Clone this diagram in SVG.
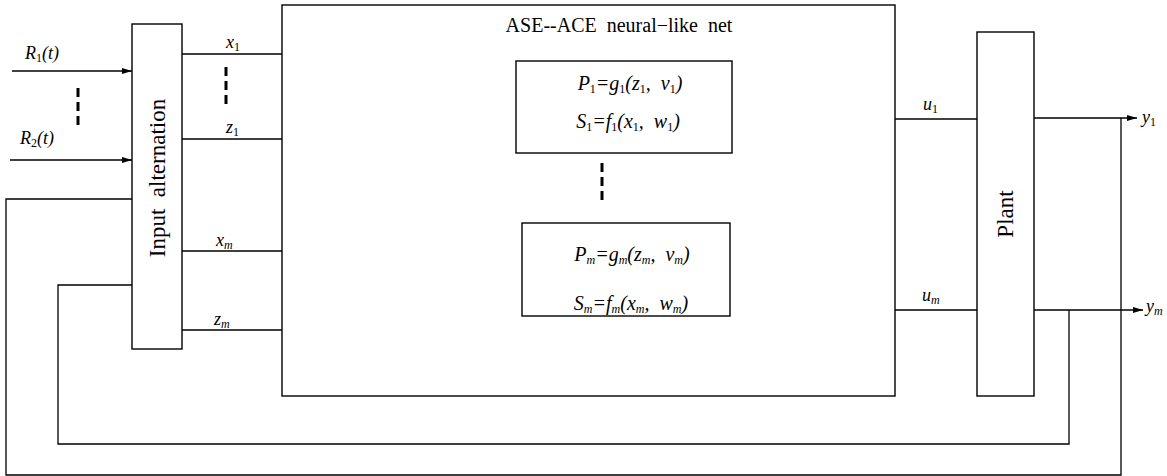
<svg xmlns="http://www.w3.org/2000/svg" width="1167" height="476" viewBox="0 0 1167 476">
<style>
.box{fill:none;stroke:#000;stroke-width:1.4}
.ln{fill:none;stroke:#000;stroke-width:1.3}
.dots{fill:none;stroke:#000;stroke-width:3;stroke-dasharray:9 5}
text{font-family:"Liberation Serif","Times New Roman",serif;fill:#000;white-space:pre}
.lab{font-size:18px;font-style:italic}
.fx{font-size:20px;font-style:italic}
.sub{font-size:12px;font-style:normal}
.subi{font-size:12px;font-style:italic}
.ttl{font-size:20px}
.rot{font-size:23px}
</style>
<defs>
<marker id="arr" viewBox="0 0 10 6" refX="10" refY="3" markerWidth="10" markerHeight="6" markerUnits="userSpaceOnUse" orient="auto">
<path d="M0,0 L10,3 L0,6 Z" fill="#000"/>
</marker>
</defs>
<rect width="1167" height="476" fill="#fff"/>

<g id="input-alternation">
<rect class="box" x="132" y="24" width="50" height="325"/>
<text class="rot" transform="translate(165,178) rotate(-90)" text-anchor="middle" xml:space="preserve">Input  alternation</text>
</g>

<g id="ase-ace-net">
<rect class="box" x="282" y="5" width="613" height="391"/>
<text class="ttl" x="619" y="32" text-anchor="middle" xml:space="preserve">ASE--ACE  neural−like  net</text>
</g>

<g id="unit-1">
<rect class="box" x="516" y="61" width="216" height="92"/>
<text class="fx" x="630" y="90" text-anchor="middle" xml:space="preserve">P<tspan class="sub" dy="3">1</tspan><tspan dy="-3">=g</tspan><tspan class="sub" dy="3">1</tspan><tspan dy="-3">(z</tspan><tspan class="sub" dy="3">1</tspan><tspan dy="-3">,  v</tspan><tspan class="sub" dy="3">1</tspan><tspan dy="-3">)</tspan></text>
<text class="fx" x="628" y="128" text-anchor="middle" xml:space="preserve">S<tspan class="sub" dy="3">1</tspan><tspan dy="-3">=f</tspan><tspan class="sub" dy="3">1</tspan><tspan dy="-3">(x</tspan><tspan class="sub" dy="3">1</tspan><tspan dy="-3">,  w</tspan><tspan class="sub" dy="3">1</tspan><tspan dy="-3">)</tspan></text>
</g>

<g id="unit-m">
<rect class="box" x="522" y="223" width="208" height="93"/>
<text class="fx" x="632" y="261" text-anchor="middle" xml:space="preserve">P<tspan class="subi" dy="3">m</tspan><tspan dy="-3">=g</tspan><tspan class="subi" dy="3">m</tspan><tspan dy="-3">(z</tspan><tspan class="subi" dy="3">m</tspan><tspan dy="-3">,  v</tspan><tspan class="subi" dy="3">m</tspan><tspan dy="-3">)</tspan></text>
<text class="fx" x="631" y="310" text-anchor="middle" xml:space="preserve">S<tspan class="subi" dy="3">m</tspan><tspan dy="-3">=f</tspan><tspan class="subi" dy="3">m</tspan><tspan dy="-3">(x</tspan><tspan class="subi" dy="3">m</tspan><tspan dy="-3">,  w</tspan><tspan class="subi" dy="3">m</tspan><tspan dy="-3">)</tspan></text>
</g>

<g id="plant">
<rect class="box" x="977" y="32" width="57" height="364"/>
<text class="rot" transform="translate(1013,214) rotate(-90)" text-anchor="middle">Plant</text>
</g>

<g id="connectors">
<line class="ln" x1="12" y1="71" x2="132" y2="71" marker-end="url(#arr)"/>
<line class="ln" x1="10" y1="160" x2="132" y2="160" marker-end="url(#arr)"/>
<line class="dots" x1="78" y1="88" x2="78" y2="128"/>
<line class="ln" x1="182" y1="54" x2="282" y2="54"/>
<line class="ln" x1="182" y1="139" x2="282" y2="139"/>
<line class="ln" x1="182" y1="251" x2="282" y2="251"/>
<line class="ln" x1="182" y1="330" x2="282" y2="330"/>
<line class="dots" x1="226" y1="67" x2="226" y2="108"/>
<line class="dots" x1="602" y1="163" x2="602" y2="203"/>
<line class="ln" x1="895" y1="119" x2="977" y2="119"/>
<line class="ln" x1="895" y1="310" x2="977" y2="310"/>
<line class="ln" x1="1034" y1="118" x2="1137" y2="118" marker-end="url(#arr)"/>
<line class="ln" x1="1034" y1="310" x2="1143" y2="310" marker-end="url(#arr)"/>
<polyline class="ln" points="1121,118 1121,475 6,475 6,199 132,199"/>
<polyline class="ln" points="1069,310 1069,444 58,444 58,285 132,285"/>
<text class="lab" x="25" y="59">R<tspan class="sub" dy="3">1</tspan><tspan dy="-3">(t)</tspan></text>
<text class="lab" x="20" y="144">R<tspan class="sub" dy="3">2</tspan><tspan dy="-3">(t)</tspan></text>
<text class="lab" x="226" y="48">x<tspan class="sub" dy="3">1</tspan></text>
<text class="lab" x="226" y="133">z<tspan class="sub" dy="3">1</tspan></text>
<text class="lab" x="216" y="246">x<tspan class="subi" dy="3">m</tspan></text>
<text class="lab" x="214" y="325">z<tspan class="subi" dy="3">m</tspan></text>
<text class="lab" x="923" y="110">u<tspan class="sub" dy="3">1</tspan></text>
<text class="lab" x="922" y="301">u<tspan class="subi" dy="3">m</tspan></text>
<text class="lab" x="1142" y="123">y<tspan class="sub" dy="3">1</tspan></text>
<text class="lab" x="1146" y="312">y<tspan class="subi" dy="3">m</tspan></text>
</g>
</svg>
